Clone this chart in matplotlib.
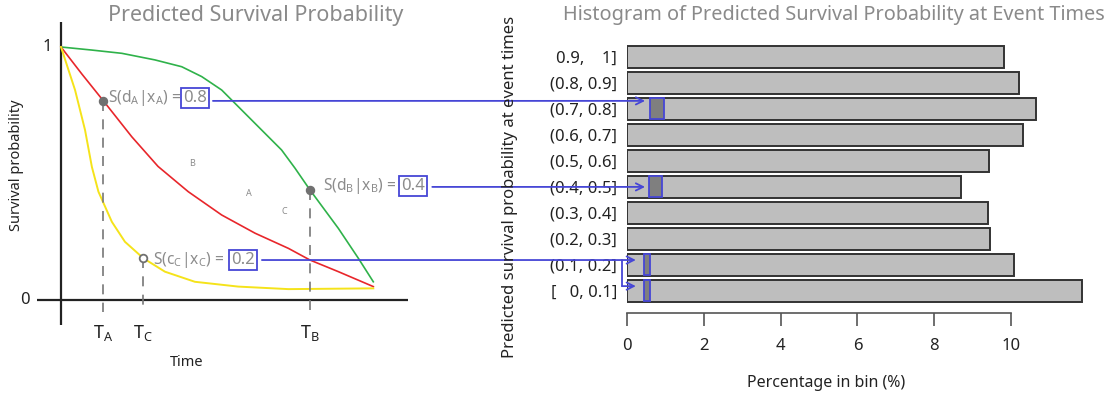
import matplotlib
matplotlib.use("Agg")
import matplotlib.pyplot as plt
from matplotlib.patches import ConnectionPatch, Rectangle
from matplotlib.transforms import blended_transform_factory

plt.rcParams["font.family"] = ["Noto Sans", "DejaVu Sans"]
plt.rcParams["mathtext.default"] = "regular"

W, H = 1114, 398
GRAY_TXT = "#8c8c8c"
BLUE = "#4646d6"

# ---- left panel: predicted survival curves (time units arbitrary) ----
green_t = [0, 0.98, 1.95, 3.01, 3.87, 4.51, 5.15, 5.79, 6.43, 7.07, 7.5, 7.98, 8.89, 9.53, 10.01]
green_s = [1.0, 0.988, 0.975, 0.949, 0.922, 0.883, 0.830, 0.751, 0.672, 0.593, 0.521, 0.435,
           0.283, 0.165, 0.072]
red_t = [0, 0.67, 1.36, 2.27, 3.11, 4.08, 5.15, 6.22, 7.29, 7.98, 8.89, 10.01]
red_s = [1.0, 0.893, 0.787, 0.645, 0.528, 0.428, 0.336, 0.264, 0.204, 0.158, 0.112, 0.053]
yellow_t = [0, 0.45, 0.77, 0.99, 1.2, 1.63, 2.05, 2.64, 3.33, 4.29, 5.68, 7.29, 10.01]
yellow_s = [1.0, 0.83, 0.672, 0.526, 0.428, 0.309, 0.23, 0.165, 0.112, 0.072, 0.053, 0.043, 0.046]

event_t = [1.36, 7.98, 2.64]          # T_A, T_B, T_C
event_s = [0.787, 0.435, 0.165]
event_names = ["A", "B", "C"]
event_filled = [True, True, False]

label_text = [r"S(d$_{A}$|x$_{A}$) =", r"S(d$_{B}$|x$_{B}$) =", r"S(c$_{C}$|x$_{C}$) ="]
label_value = ["0.8", "0.4", "0.2"]
label_t = [1.51, 8.4, 2.95]
label_s = [0.80, 0.45, 0.16]
box_t = [4.29, 11.28, 5.83]
arrow_t = [4.87, 11.9, 6.44]
arrow_s = [0.787, 0.447, 0.158]

letters = ["B", "A", "C"]
letters_t = [4.2, 6.03, 7.15]
letters_s = [0.54, 0.42, 0.35]

# ---- right panel: histogram of predicted survival at event times ----
bins = ["[   0, 0.1]", "(0.1, 0.2]", "(0.2, 0.3]", "(0.3, 0.4]", "(0.4, 0.5]",
        "(0.5, 0.6]", "(0.6, 0.7]", "(0.7, 0.8]", "(0.8, 0.9]", "0.9,    1]"]
pct = [11.86, 10.09, 9.46, 9.41, 8.71, 9.44, 10.30, 10.64, 10.22, 9.83]
x_ticks = [0, 2, 4, 6, 8, 10]

hl_bin = [7, 4, 1, 0]
hl_left = [0.6, 0.56, 0.43, 0.43]
hl_right = [0.96, 0.91, 0.6, 0.6]
arrow_end = [0.47, 0.47, 0.23]      # where the arrows land in the bars (%)
branch_x, branch_y = -0.13, 0.18


def fx(px):
    return px / W


def fy(py):
    return 1 - py / H


fig = plt.figure(figsize=(W / 100, H / 100), dpi=100)

# left panel axes: t=0 at px 61 (31.2 px/unit), S=0 at px 300 (253 px/unit)
ax1 = fig.add_axes([fx(37), fy(325), 371 / W, 303 / H])
ax1.set_xlim((37 - 61) / 31.2, (408 - 61) / 31.2)
ax1.set_ylim((300 - 325) / 253, (300 - 22) / 253)
ax1.axis("off")
ax1.axhline(0, color="#222222", lw=1.6)
ax1.axvline(0, color="#222222", lw=1.6)

ax1.plot(green_t, green_s, color="#2fb24a", lw=1.2)
ax1.plot(red_t, red_s, color="#e8262b", lw=1.2)
ax1.plot(yellow_t, yellow_s, color="#f5e31a", lw=1.4)

for t, s, name, filled in zip(event_t, event_s, event_names, event_filled):
    ax1.plot([t, t], [s, -0.047], color="#777777", lw=1.2, ls=(0, (6, 5)))
    ax1.plot(t, s, "o", ms=5.5, mfc="#707070" if filled else "white",
             mec="#707070", mew=1.3, zorder=4)
    ax1.text(t, -0.09, "T$_{%s}$" % name, ha="center", va="top",
             fontsize=13, color="#222222", clip_on=False)

for txt, val, t, s, bt in zip(label_text, label_value, label_t, label_s, box_t):
    ax1.text(t, s, txt, ha="left", va="center", fontsize=11.2, color=GRAY_TXT, clip_on=False)
    ax1.text(bt, s, val, ha="center", va="center", fontsize=12, color=GRAY_TXT, clip_on=False,
             bbox=dict(boxstyle="square,pad=0.12", fc="white", ec=BLUE, lw=1.3))

for l, t, s in zip(letters, letters_t, letters_s):
    ax1.text(t, s, l, ha="center", va="center", fontsize=6.5, color=GRAY_TXT)

ax1.text(-0.45, 1.0, "1", ha="center", va="center", fontsize=12, color="#222222")
ax1.text(-1.15, 0.0, "0", ha="center", va="center", fontsize=12, color="#222222", clip_on=False)
fig.text(fx(187), fy(363), "Time", ha="center", va="center", fontsize=10.5, color="#222222")
fig.text(fx(17), fy(165), "Survival probability", ha="center", va="center",
         rotation=90, fontsize=10.5, color="#222222")
fig.text(fx(256), fy(15), "Predicted Survival Probability", ha="center", va="center",
         fontsize=15.5, color="#8a8a8a")

# right panel axes: 0% at px 627 (38.4 px/%), bin 0 centred at px 290.8, 26 px per bin
ax2 = fig.add_axes([fx(627), fy(313), 472 / W, 273 / H])
ax2.set_xlim(0, 472 / 38.4)
ax2.set_ylim(-(313 - 290.8) / 26, (290.8 - 40) / 26)
ypos = list(range(len(bins)))
ax2.barh(ypos, pct, height=0.83, color="#bebebe", edgecolor="#333333", lw=1.4)
for b, l, r in zip(hl_bin, hl_left, hl_right):
    ax2.add_patch(Rectangle((l, b - 0.4), r - l, 0.8, fc="#7f7f7f", ec=BLUE, lw=1.3, zorder=3))

for sp in ("top", "right", "left"):
    ax2.spines[sp].set_visible(False)
ax2.spines["bottom"].set_bounds(0, 10)
ax2.spines["bottom"].set_color("#555555")
ax2.spines["bottom"].set_linewidth(1.2)
ax2.set_xticks(x_ticks)
ax2.tick_params(axis="x", length=9, width=1.2, color="#555555", pad=9,
                labelsize=12, labelcolor="#222222")
ax2.set_yticks(ypos)
ax2.set_yticklabels(bins)
ax2.tick_params(axis="y", length=0, pad=7, labelsize=12, labelcolor="#222222")

fig.text(fx(826), fy(383), "Percentage in bin (%)", ha="center", va="center",
         fontsize=11.5, color="#222222")
fig.text(fx(510), fy(187), "Predicted survival probability at event times", ha="center",
         va="center", rotation=90, fontsize=12, color="#222222")
fig.text(fx(834), fy(15), "Histogram of Predicted Survival Probability at Event Times",
         ha="center", va="center", fontsize=14.3, color="#8a8a8a")

# arrows from the left labels to the highlighted bins
mix = blended_transform_factory(ax2.transData, ax1.transData)
for t, s, xe in zip(arrow_t, arrow_s, arrow_end):
    con = ConnectionPatch((t, s), (xe, s), coordsA=ax1.transData, coordsB=mix,
                          arrowstyle="->", color=BLUE, lw=1.3, mutation_scale=13)
    fig.add_artist(con)
con = ConnectionPatch((branch_x, arrow_s[2]), (branch_x, branch_y), coordsA=mix,
                      coordsB=ax2.transData, color=BLUE, lw=1.3)
fig.add_artist(con)
con = ConnectionPatch((branch_x, branch_y), (arrow_end[2], branch_y), coordsA=ax2.transData,
                      coordsB=ax2.transData, arrowstyle="->", color=BLUE, lw=1.3,
                      mutation_scale=13)
fig.add_artist(con)

fig.savefig("out.png", dpi=100)
